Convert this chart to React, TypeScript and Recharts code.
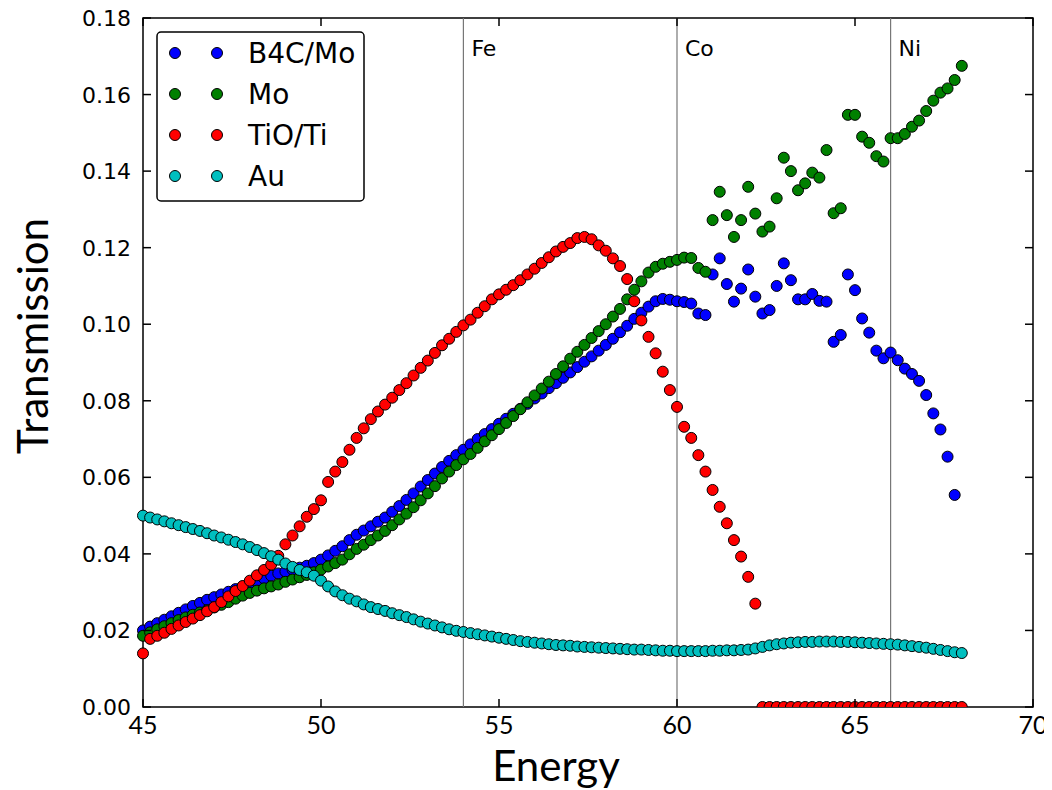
import React from 'react';
import { ScatterChart, Scatter, XAxis, YAxis, ReferenceLine, ReferenceArea } from 'recharts';

// photon energy of each measured point
const energy = [
  45.0, 45.2, 45.4, 45.6, 45.8, 46.0, 46.2, 46.4, 46.6, 46.8,
  47.0, 47.2, 47.4, 47.6, 47.8, 48.0, 48.2, 48.4, 48.6, 48.8,
  49.0, 49.2, 49.4, 49.6, 49.8, 50.0, 50.2, 50.4, 50.6, 50.8,
  51.0, 51.2, 51.4, 51.6, 51.8, 52.0, 52.2, 52.4, 52.6, 52.8,
  53.0, 53.2, 53.4, 53.6, 53.8, 54.0, 54.2, 54.4, 54.6, 54.8,
  55.0, 55.2, 55.4, 55.6, 55.8, 56.0, 56.2, 56.4, 56.6, 56.8,
  57.0, 57.2, 57.4, 57.6, 57.8, 58.0, 58.2, 58.4, 58.6, 58.8,
  59.0, 59.2, 59.4, 59.6, 59.8, 60.0, 60.2, 60.4, 60.6, 60.8,
  61.0, 61.2, 61.4, 61.6, 61.8, 62.0, 62.2, 62.4, 62.6, 62.8,
  63.0, 63.2, 63.4, 63.6, 63.8, 64.0, 64.2, 64.4, 64.6, 64.8,
  65.0, 65.2, 65.4, 65.6, 65.8, 66.0, 66.2, 66.4, 66.6, 66.8,
  67.0, 67.2, 67.4, 67.6, 67.8, 68.0,
];

const b4cMo = [
  0.0200, 0.0210, 0.0219, 0.0228, 0.0237, 0.0246, 0.0255, 0.0264, 0.0272, 0.0280,
  0.0287, 0.0294, 0.0301, 0.0308, 0.0315, 0.0322, 0.0329, 0.0336, 0.0343, 0.0349,
  0.0354, 0.0359, 0.0364, 0.0369, 0.0376, 0.0385, 0.0396, 0.0408, 0.0420, 0.0436,
  0.0450, 0.0461, 0.0472, 0.0484, 0.0495, 0.0510, 0.0525, 0.0541, 0.0558, 0.0576,
  0.0593, 0.0610, 0.0627, 0.0643, 0.0658, 0.0672, 0.0686, 0.0700, 0.0713, 0.0726,
  0.0740, 0.0753, 0.0766, 0.0779, 0.0792, 0.0806, 0.0819, 0.0833, 0.0846, 0.0860,
  0.0874, 0.0888, 0.0902, 0.0916, 0.0931, 0.0946, 0.0962, 0.0979, 0.0996, 0.1014,
  0.1030, 0.1046, 0.1060, 0.1066, 0.1064, 0.1060, 0.1058, 0.1054, 0.1028, 0.1024,
  0.1130, 0.1172, 0.1105, 0.1059, 0.1093, 0.1143, 0.1072, 0.1028, 0.1037, 0.1100,
  0.1159, 0.1115, 0.1065, 0.1065, 0.1079, 0.1061, 0.1059, 0.0954, 0.0972, 0.1130,
  0.1089, 0.1015, 0.0978, 0.0931, 0.0911, 0.0926, 0.0906, 0.0884, 0.0870, 0.0852,
  0.0815, 0.0767, 0.0725, 0.0654, 0.0554, null,
];

const mo = [
  0.0186, 0.0195, 0.0203, 0.0211, 0.0219, 0.0227, 0.0234, 0.0241, 0.0247, 0.0253,
  0.0260, 0.0267, 0.0274, 0.0283, 0.0291, 0.0298, 0.0304, 0.0310, 0.0315, 0.0320,
  0.0327, 0.0333, 0.0339, 0.0345, 0.0352, 0.0359, 0.0367, 0.0376, 0.0385, 0.0399,
  0.0413, 0.0424, 0.0436, 0.0448, 0.0460, 0.0475, 0.0490, 0.0505, 0.0522, 0.0540,
  0.0558, 0.0577, 0.0597, 0.0615, 0.0632, 0.0647, 0.0661, 0.0677, 0.0694, 0.0710,
  0.0726, 0.0742, 0.0760, 0.0778, 0.0796, 0.0814, 0.0832, 0.0850, 0.0870, 0.0890,
  0.0910, 0.0928, 0.0946, 0.0964, 0.0982, 0.1000, 0.1020, 0.1040, 0.1065, 0.1090,
  0.1112, 0.1135, 0.1150, 0.1158, 0.1163, 0.1168, 0.1174, 0.1173, 0.1147, 0.1137,
  0.1272, 0.1346, 0.1285, 0.1228, 0.1272, 0.1359, 0.1289, 0.1242, 0.1255, 0.1329,
  0.1435, 0.1400, 0.1350, 0.1368, 0.1396, 0.1383, 0.1455, 0.1290, 0.1303, 0.1547,
  0.1547, 0.1490, 0.1474, 0.1439, 0.1425, 0.1486, 0.1486, 0.1497, 0.1516, 0.1532,
  0.1557, 0.1584, 0.1605, 0.1616, 0.1638, 0.1675,
];

const tioTi = [
  0.0140, 0.0178, 0.0186, 0.0194, 0.0204, 0.0213, 0.0222, 0.0231, 0.0240, 0.0250,
  0.0261, 0.0274, 0.0289, 0.0303, 0.0316, 0.0330, 0.0344, 0.0358, 0.0372, 0.0395,
  0.0425, 0.0448, 0.0472, 0.0497, 0.0517, 0.0540, 0.0588, 0.0615, 0.0640, 0.0672,
  0.0703, 0.0728, 0.0752, 0.0772, 0.0790, 0.0808, 0.0828, 0.0846, 0.0866, 0.0886,
  0.0905, 0.0925, 0.0945, 0.0962, 0.0980, 0.0997, 0.1012, 0.1030, 0.1047, 0.1065,
  0.1078, 0.1090, 0.1102, 0.1115, 0.1130, 0.1145, 0.1160, 0.1175, 0.1190, 0.1202,
  0.1212, 0.1225, 0.1228, 0.1222, 0.1206, 0.1192, 0.1172, 0.1152, 0.1118, 0.1060,
  0.1010, 0.0967, 0.0924, 0.0876, 0.0828, 0.0784, 0.0732, 0.0703, 0.0658, 0.0615,
  0.0567, 0.0523, 0.0480, 0.0436, 0.0393, 0.0340, 0.0270, 0, 0, 0,
  0, 0, 0, 0, 0, 0, 0, 0, 0, 0,
  0, 0, 0, 0, 0, 0, 0, 0, 0, 0,
  0, 0, 0, 0, 0, 0,
];

const au = [
  0.0500, 0.0495, 0.0490, 0.0485, 0.0480, 0.0475, 0.0470, 0.0465, 0.0460, 0.0454,
  0.0448, 0.0443, 0.0437, 0.0431, 0.0425, 0.0418, 0.0410, 0.0402, 0.0394, 0.0385,
  0.0375, 0.0366, 0.0358, 0.0352, 0.0343, 0.0330, 0.0315, 0.0302, 0.0292, 0.0283,
  0.0276, 0.0268, 0.0261, 0.0256, 0.0251, 0.0245, 0.0240, 0.0235, 0.0229, 0.0223,
  0.0218, 0.0213, 0.0208, 0.0203, 0.0199, 0.0196, 0.0193, 0.0190, 0.0187, 0.0184,
  0.0181, 0.0178, 0.0175, 0.0172, 0.0170, 0.0168, 0.0166, 0.0164, 0.0162, 0.0161,
  0.0160, 0.0158, 0.0157, 0.0156, 0.0155, 0.0154, 0.0153, 0.0152, 0.0151, 0.0150,
  0.0150, 0.0149, 0.0148, 0.0147, 0.0147, 0.0146, 0.0146, 0.0146, 0.0146, 0.0146,
  0.0147, 0.0147, 0.0148, 0.0148, 0.0149, 0.0150, 0.0153, 0.0157, 0.0161, 0.0164,
  0.0166, 0.0168, 0.0169, 0.0170, 0.0170, 0.0171, 0.0171, 0.0171, 0.0170, 0.0170,
  0.0169, 0.0168, 0.0167, 0.0166, 0.0165, 0.0164, 0.0163, 0.0161, 0.0159, 0.0157,
  0.0155, 0.0152, 0.0149, 0.0146, 0.0143, 0.0141,
];

const xTicks = [45, 50, 55, 60, 65, 70];
const yTicks = [0, 0.02, 0.04, 0.06, 0.08, 0.1, 0.12, 0.14, 0.16, 0.18];

// absorption edges marked with vertical lines
const edgeNames = ['Fe', 'Co', 'Ni'];
const edgeEnergies = [54, 60, 66];

const series = [
  { name: 'B4C/Mo', values: b4cMo, color: '#0000ff' },
  { name: 'Mo', values: mo, color: '#008000' },
  { name: 'TiO/Ti', values: tioTi, color: '#ff0000' },
  { name: 'Au', values: au, color: '#00bfbf' },
];

const W = 1044;
const H = 782;
const LEFT = 135;
const TOP = 10;
const RIGHT = 1025;
const BOTTOM = 699;
const TICK = 8;

const toPoints = (values: (number | null)[]) =>
  energy
    .map((e, i) => ({ energy: e, value: values[i] }))
    .filter((p) => p.value !== null);

const Dot = (color: string) => (props: any) => {
  const { cx, cy } = props;
  if (cx == null || cy == null) return <g />;
  return <circle cx={cx} cy={cy} r={5.5} fill={color} stroke="#000" strokeWidth={1} />;
};

const XTick = (props: any) => {
  const { x, payload } = props;
  return (
    <g>
      <line x1={x} x2={x} y1={BOTTOM} y2={BOTTOM - TICK} stroke="#000" strokeWidth={1.5} />
      <line x1={x} x2={x} y1={TOP} y2={TOP + TICK} stroke="#000" strokeWidth={1.5} />
      <text x={x} y={BOTTOM + 27} textAnchor="middle" fontSize={25} fontFamily="Lato" fill="#000">
        {payload.value}
      </text>
    </g>
  );
};

const YTick = (props: any) => {
  const { y, payload } = props;
  return (
    <g>
      <line x1={LEFT} x2={LEFT + TICK} y1={y} y2={y} stroke="#000" strokeWidth={1.5} />
      <line x1={RIGHT} x2={RIGHT - TICK} y1={y} y2={y} stroke="#000" strokeWidth={1.5} />
      <text x={LEFT - 12} y={y + 8} textAnchor="end" fontSize={22} fontFamily="DejaVu Sans" fill="#000">
        {payload.value.toFixed(2)}
      </text>
    </g>
  );
};

const Legend = () => (
  <svg
    width={210}
    height={172}
    style={{ position: 'absolute', left: 148, top: 23 }}
  >
    <rect x={1} y={1} width={207} height={169} rx={4} fill="#fff" stroke="#000" strokeWidth={1.5} />
    {series.map((s, i) => {
      const cy = 22 + i * 41;
      return (
        <g key={s.name}>
          <circle cx={19} cy={cy} r={5.5} fill={s.color} stroke="#000" strokeWidth={1} />
          <circle cx={61} cy={cy} r={5.5} fill={s.color} stroke="#000" strokeWidth={1} />
          <text x={92} y={cy + 10} fontSize={28} fontFamily="DejaVu Sans" fill="#000">
            {s.name}
          </text>
        </g>
      );
    })}
  </svg>
);

export default function App() {
  return (
    <div style={{ position: 'relative', width: W, height: H, background: '#fff' }}>
      <ScatterChart width={W} height={H} margin={{ top: TOP, right: W - RIGHT, bottom: 0, left: 0 }}>
        <XAxis
          type="number"
          dataKey="energy"
          domain={[45, 70]}
          ticks={xTicks}
          height={H - BOTTOM}
          axisLine={false}
          tickLine={false}
          tick={XTick}
          label={{
            content: () => (
              <text x={548} y={773} textAnchor="middle" fontSize={42} fontFamily="Lato" fill="#000">
                Energy
              </text>
            ),
          }}
        />
        <YAxis
          type="number"
          dataKey="value"
          domain={[0, 0.18]}
          ticks={yTicks}
          width={LEFT}
          allowDataOverflow
          axisLine={false}
          tickLine={false}
          tick={YTick}
          label={{
            content: () => (
              <text
                x={0}
                y={0}
                transform="translate(40, 328) rotate(-90)"
                textAnchor="middle"
                fontSize={42}
                fontFamily="Lato"
                fill="#000"
              >
                Transmission
              </text>
            ),
          }}
        />
        {edgeEnergies.map((e, i) => (
          <ReferenceLine
            key={edgeNames[i]}
            x={e}
            stroke="#777"
            strokeWidth={1.2}
            label={{
              content: (p: any) => (
                <text
                  x={p.viewBox.x + 8}
                  y={p.viewBox.y + 38}
                  fontSize={22}
                  fontFamily="DejaVu Sans"
                  fill="#000"
                >
                  {edgeNames[i]}
                </text>
              ),
            }}
          />
        ))}
        {series.map((s) => (
          <Scatter
            key={s.name}
            name={s.name}
            data={toPoints(s.values)}
            shape={Dot(s.color)}
            isAnimationActive={false}
          />
        ))}
        <ReferenceArea x1={45} x2={70} y1={0} y2={0.18} fill="none" stroke="#000" strokeWidth={1.5} />
      </ScatterChart>
      <Legend />
    </div>
  );
}
